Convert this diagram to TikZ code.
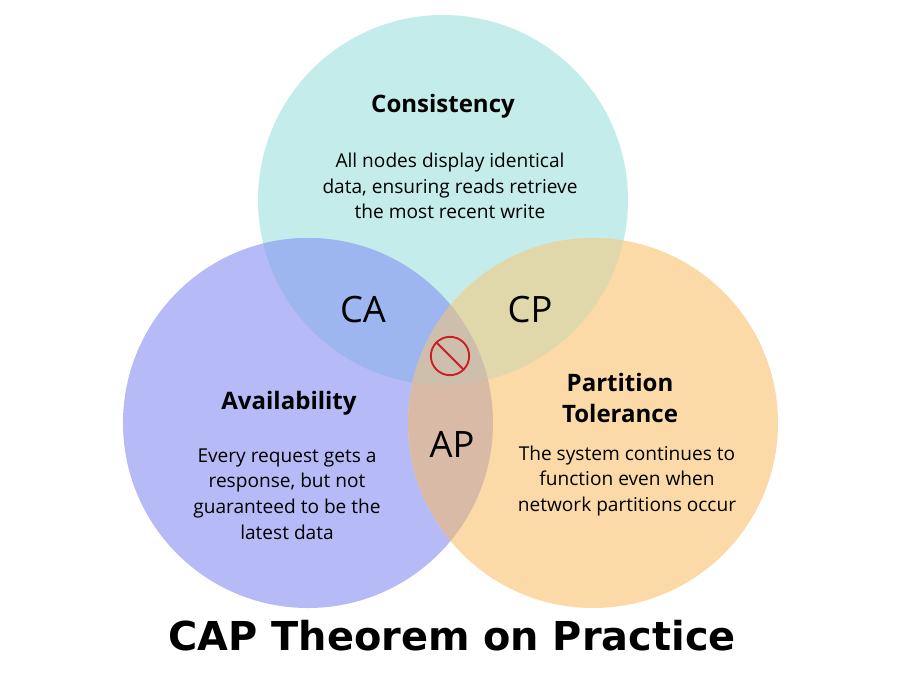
\documentclass[tikz,border=0pt]{standalone}
\usepackage{fontspec}
\setmainfont{Open Sans}
\newfontfamily\titlefont{DejaVu Sans}
\definecolor{cyanc}{RGB}{196,236,234}
\definecolor{lavc}{RGB}{182,186,246}
\definecolor{peachc}{RGB}{251,218,168}
\definecolor{cac}{RGB}{157,182,240}
\definecolor{cpc}{RGB}{224,216,170}
\definecolor{apc}{RGB}{216,186,166}
\definecolor{midc}{RGB}{206,190,172}
\definecolor{stopc}{RGB}{200,32,36}
\begin{document}
\begin{tikzpicture}[x=0.03cm, y=-0.03cm,
	set/.style={circle, draw=none, minimum size=11.1cm, inner sep=0},
	head/.style={font=\fontsize{20.5}{27}\selectfont\bfseries, align=center},
	body/.style={font=\fontsize{16.3}{22}\selectfont, align=center},
	pair/.style={font=\fontsize{31}{34}\selectfont}]

	\useasboundingbox (0,0) rectangle (900,675);

	% the three sets
	\node (C) at (443,200) [set, fill=cyanc] {};
	\node (A) at (308,423) [set, fill=lavc] {};
	\node (P) at (593,423) [set, fill=peachc] {};

	% overlaps
	\begin{scope}
		\clip (443,200) circle (185);
		\fill[cac] (308,423) circle (185);
	\end{scope}
	\begin{scope}
		\clip (443,200) circle (185);
		\fill[cpc] (593,423) circle (185);
	\end{scope}
	\begin{scope}
		\clip (308,423) circle (185);
		\fill[apc] (593,423) circle (185);
	\end{scope}
	\begin{scope}
		\clip (443,200) circle (185);
		\clip (308,423) circle (185);
		\fill[midc] (593,423) circle (185);
	\end{scope}

	% texts
	\node (Ch) at (443,106) [head] {Consistency};
	\node (Cb) at (450,186) [body] {All nodes display identical\\data, ensuring reads retrieve\\the most recent write};
	\node (Ah) at (289,403) [head] {Availability};
	\node (Ab) at (287,494) [body] {Every request gets a\\response, but not\\guaranteed to be the\\latest data};
	\node (Ph) at (620,398) [head] {Partition\\Tolerance};
	\node (Pb) at (627,481) [body] {The system continues to\\function even when\\network partitions occur};

	\node (CA) at (363,310) [pair] {CA};
	\node (CP) at (530,310) [pair] {CP};
	\node (AP) at (452,444) [pair] {AP};

	% no-go sign
	\node (stop) at (450,356) [circle, draw=stopc, line width=1.6pt, minimum size=1.15cm, inner sep=0] {};
	\draw[stopc, line width=1.6pt] (stop.135) -- (stop.-45);

	\node (title) at (452,636) [font=\titlefont\fontsize{34}{38}\selectfont\bfseries] {CAP Theorem on Practice};
\end{tikzpicture}
\end{document}
